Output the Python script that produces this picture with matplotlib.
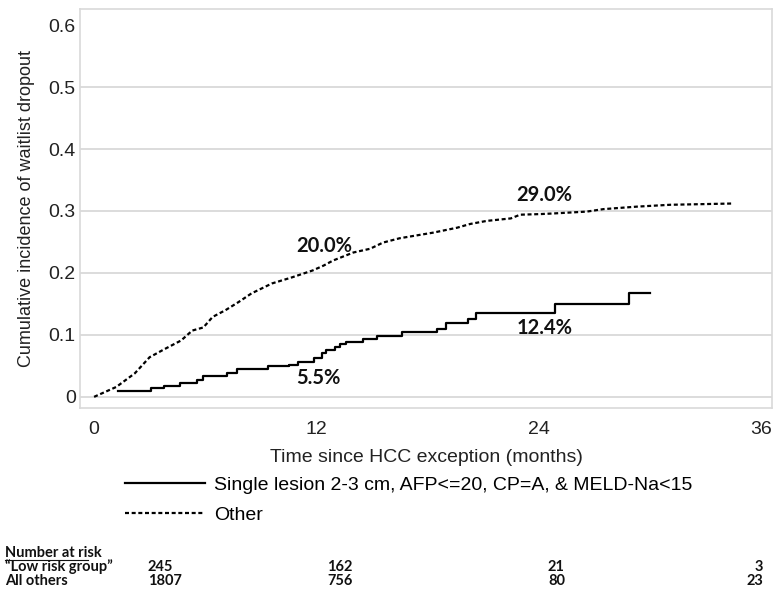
import matplotlib
matplotlib.use('Agg')
import matplotlib.pyplot as plt

# "Other" group, cumulative incidence
other_t = [0, 0.15, 1.2, 2.2, 3.0, 3.8, 4.7, 5.3, 5.9, 6.4, 7.1, 7.8, 8.5,
           9.6, 10.7, 11.8, 12.4, 12.9, 14.0, 14.9, 15.6, 16.5, 18.3, 19.6,
           20.3, 21.2, 22.5, 23.0, 24.1, 24.8, 26.6, 27.5, 29.3, 31.1, 34.4]
other_y = [0, 0.002, 0.016, 0.038, 0.064, 0.077, 0.091, 0.107, 0.112, 0.129,
           0.140, 0.153, 0.167, 0.183, 0.193, 0.204, 0.212, 0.220, 0.233,
           0.239, 0.249, 0.256, 0.265, 0.273, 0.279, 0.284, 0.288, 0.294,
           0.295, 0.296, 0.299, 0.303, 0.307, 0.310, 0.312]

# low risk group, step function
low_t = [1.3, 3.1, 3.75, 4.65, 5.55, 5.9, 7.2, 7.7, 9.4, 10.5, 11.0, 11.85,
         12.3, 12.5, 13.0, 13.3, 13.6, 14.5, 15.3, 16.6, 18.5, 19.0, 20.2,
         20.6, 24.9, 28.9, 30.0]
low_y = [0.009, 0.014, 0.018, 0.023, 0.027, 0.034, 0.039, 0.045, 0.049,
         0.051, 0.057, 0.062, 0.070, 0.075, 0.081, 0.086, 0.089, 0.093,
         0.098, 0.105, 0.110, 0.119, 0.125, 0.135, 0.150, 0.168, 0.168]

labels = ['20.0%', '29.0%', '5.5%', '12.4%']
label_xy = [(12.4, 0.244), (24.3, 0.326), (12.1, 0.031), (24.3, 0.111)]

legend_names = ['Single lesion 2-3 cm, AFP<=20, CP=A, & MELD-Na<15', 'Other']

risk_groups = ['\u201cLow risk group\u201d', 'All others']
risk_low = [245, 162, 21, 3]
risk_other = [1807, 756, 80, 23]

fig = plt.figure(figsize=(7.78, 5.89), dpi=100)
ax = fig.add_axes([80/778, 1-408/589, 692/778, 399/589])

gray = '#d9d9d9'
for yy in [0, 0.1, 0.2, 0.3, 0.4, 0.5]:
    ax.axhline(yy, color=gray, lw=1.3, zorder=0)

l1, = ax.step(low_t, low_y, where='post', color='black', lw=1.6)
l2, = ax.plot(other_t, other_y, color='black', lw=1.6, linestyle=(0, (1.8, 1.2)))

for txt, (xx, yy) in zip(labels, label_xy):
    ax.text(xx, yy, txt, ha='center', va='center', fontsize=14.5,
            fontweight='bold', family='Lato', color='#111111')

ax.set_xlim(-0.76, 36.6)
ax.set_ylim(-0.018, 0.626)
ax.set_xticks([0, 12, 24, 36])
ax.set_yticks([0, 0.1, 0.2, 0.3, 0.4, 0.5, 0.6])
ax.set_yticklabels(['0', '0.1', '0.2', '0.3', '0.4', '0.5', '0.6'])
ax.tick_params(length=0, labelsize=14, colors='#222222')
ax.tick_params(axis='x', pad=9)
ax.tick_params(axis='y', pad=3)
for lab in ax.get_xticklabels() + ax.get_yticklabels():
    lab.set_family('Liberation Sans')
for sp in ax.spines.values():
    sp.set_color(gray)
    sp.set_linewidth(1.2)

ax.set_xlabel('Time since HCC exception (months)', fontsize=14,
              family='Liberation Sans', labelpad=8, color='#222222')
ax.set_ylabel('Cumulative incidence of waitlist dropout', fontsize=13,
              family='Liberation Sans', labelpad=10, color='#222222')

fig.legend([l1, l2], legend_names, loc='upper left',
           bbox_to_anchor=(125/778, 1-476/589), frameon=False,
           prop={'family': 'Liberation Sans', 'size': 14},
           handlelength=4.1, handletextpad=0.5, labelspacing=0.65,
           borderpad=0, borderaxespad=0)

# number at risk table
tfont = dict(family='Lato', fontsize=10.5, color='#111111')
fig.text(5/778, 1-553/589, 'Number at risk', va='center', ha='left',
         fontweight='bold', **tfont)
fig.add_artist(plt.Line2D([5/778, 88/778], [1-560/589, 1-560/589],
                          color='#111111', lw=0.8))
row_y = [567, 581]
col_x = [148, 327, 548]
for gname, vals, ry in zip(risk_groups, [risk_low, risk_other], row_y):
    fig.text(5/778, 1-ry/589, gname, va='center', ha='left',
             fontweight='bold', **tfont)
    for cx, v in zip(col_x, vals[:3]):
        fig.text(cx/778, 1-ry/589, str(v), va='center', ha='left',
                 fontweight='bold', **tfont)
    fig.text(763/778, 1-ry/589, str(vals[3]), va='center', ha='right',
             fontweight='bold', **tfont)

fig.savefig('out.png', dpi=100)
